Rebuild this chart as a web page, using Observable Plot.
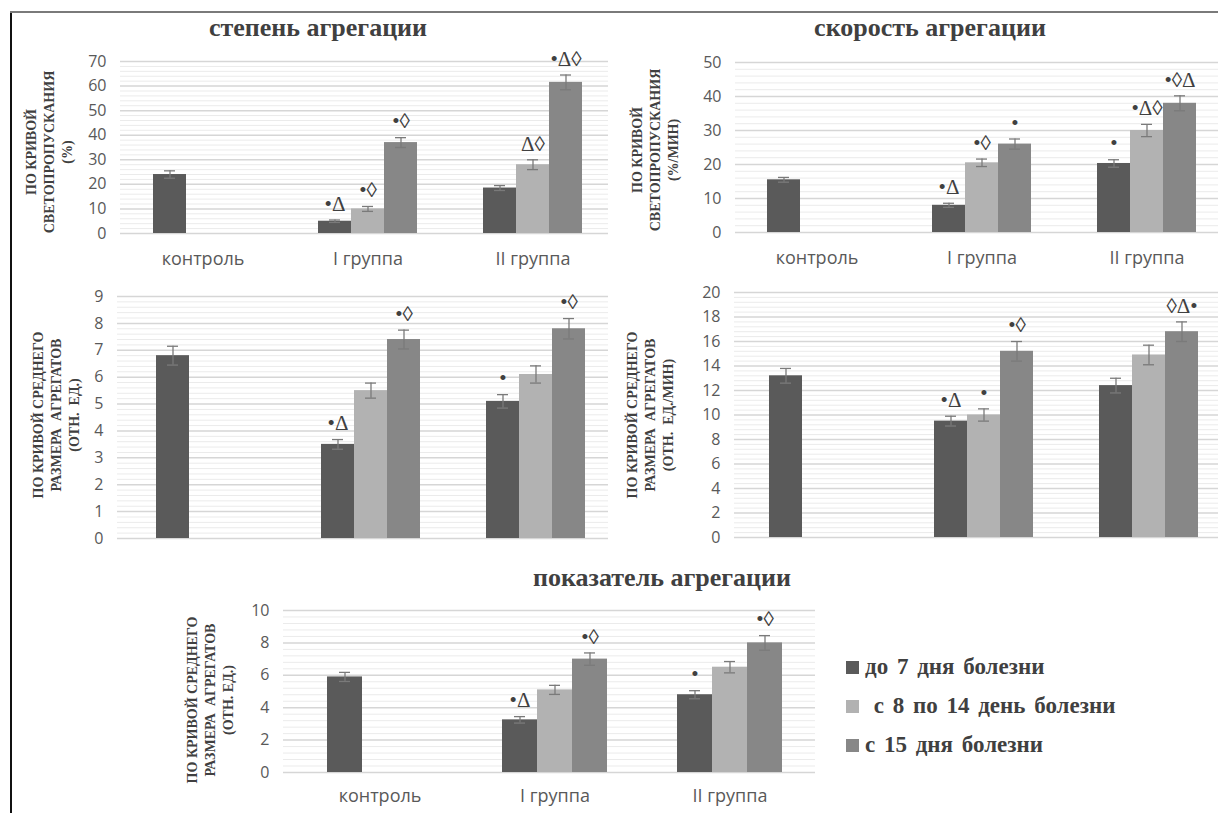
<!DOCTYPE html>
<html><head><meta charset="utf-8">
<script src="https://cdn.jsdelivr.net/npm/d3@7"></script>
<script src="https://cdn.jsdelivr.net/npm/@observablehq/plot@0.6"></script>
<style>
body{margin:0;background:#fff;}
#root{position:relative;width:1218px;height:813px;overflow:hidden;background:#fff;}
.abs{position:absolute;}
.title{font-family:"Liberation Serif",serif;font-weight:bold;font-size:26px;color:#404040;white-space:nowrap;transform:translate(-50%,-50%);}
.ylab{font-family:"Liberation Serif",serif;font-weight:bold;font-size:14px;color:#404040;text-align:center;line-height:18px;white-space:pre;transform:translate(-50%,-50%) rotate(-90deg);}
.leg{font-family:"Liberation Serif",serif;font-weight:bold;font-size:23px;word-spacing:3px;color:#404040;white-space:pre;display:flex;align-items:center;}
.sw{width:13px;height:13px;margin-right:6px;display:inline-block;}
</style></head><body><div id="root"></div>
<script>
// ---- data ----
const groups = ["контроль", "I группа", "II группа"];
const series = ["до 7 дня болезни", " с 8 по 14 день болезни", "с 15 дня болезни"];
const barGroup  = ["контроль", "I группа", "I группа", "I группа", "II группа", "II группа", "II группа"];
const barSeries = [series[0], series[0], series[1], series[2], series[0], series[1], series[2]];

const degreeMean = [24, 5, 10, 37, 18.5, 28, 61.5];
const degreeErr  = [1.5, 0.5, 1, 2, 1, 2, 3];
const degreeSig  = ["", "•Δ", "•◊", "•◊", "", "Δ◊", "•Δ◊"];
const degreeTicks = [0, 10, 20, 30, 40, 50, 60, 70];

const speedMean = [15.5, 8, 20.5, 26, 20.3, 30, 38];
const speedErr  = [0.7, 0.6, 1.1, 1.5, 1.1, 1.8, 2.2];
const speedSig  = ["", "•Δ", "•◊", "•", "•", "•Δ◊", "•◊Δ"];
const speedTicks = [0, 10, 20, 30, 40, 50];

const sizeMean = [6.8, 3.5, 5.5, 7.4, 5.1, 6.1, 7.8];
const sizeErr  = [0.35, 0.18, 0.28, 0.35, 0.25, 0.32, 0.38];
const sizeSig  = ["", "•Δ", "", "•◊", "•", "", "•◊"];
const sizeTicks = [0, 1, 2, 3, 4, 5, 6, 7, 8, 9];

const sizeRateMean = [13.2, 9.5, 10, 15.2, 12.4, 14.9, 16.8];
const sizeRateErr  = [0.6, 0.4, 0.5, 0.8, 0.6, 0.8, 0.8];
const sizeRateSig  = ["", "•Δ", "•", "•◊", "", "", "◊Δ•"];
const sizeRateTicks = [0, 2, 4, 6, 8, 10, 12, 14, 16, 18, 20];

const indexMean = [5.9, 3.25, 5.1, 7, 4.8, 6.5, 8];
const indexErr  = [0.28, 0.2, 0.28, 0.38, 0.25, 0.35, 0.45];
const indexSig  = ["", "•Δ", "", "•◊", "•", "", "•◊"];
const indexTicks = [0, 2, 4, 6, 8, 10];

// ---- styles ----
const seriesColors = ["#5a5a5a", "#b2b2b2", "#878787"];
const errColor = "#7a7a7a";
const root = document.getElementById("root");

function add(el, css) { Object.assign(el.style, css); root.appendChild(el); return el; }
function div(cls, html, css) { const d = document.createElement("div"); d.className = "abs " + cls; d.innerHTML = html; return add(d, css); }

function panel(cfg) {
  const rows = barGroup.map((g, i) => ({
    key: g + "|" + barSeries[i], series: barSeries[i],
    v: cfg.mean[i], e: cfg.err[i], sig: cfg.sig[i]
  }));
  const domain = groups.flatMap(g => [g + "|pre", ...series.map(s => g + "|" + s), g + "|post"]);
  const ticks = cfg.ticks;
  const minor = [];
  for (let i = 0; i < ticks.length - 1; i++)
    for (let k = 1; k < 5; k++) minor.push(ticks[i] + (ticks[i + 1] - ticks[i]) * k / 5);
  const marks = [
    Plot.ruleY(minor, {stroke: "#ebebeb", strokeWidth: 1}),
    Plot.ruleY(ticks, {stroke: "#d6d6d6", strokeWidth: 1.5}),
    Plot.axisY({ticks, tickSize: 0, tickPadding: 14, fontSize: 16, label: null}),
    Plot.barY(rows, {x: "key", y: "v", fill: "series"}),
    Plot.ruleX(rows, {x: "key", y1: d => d.v - d.e, y2: d => d.v + d.e, stroke: errColor, strokeWidth: 1.3}),
    Plot.tickY(rows, {x: "key", y: d => d.v - d.e, stroke: errColor, strokeWidth: 1.3, insetLeft: cfg.cap, insetRight: cfg.cap}),
    Plot.tickY(rows, {x: "key", y: d => d.v + d.e, stroke: errColor, strokeWidth: 1.3, insetLeft: cfg.cap, insetRight: cfg.cap}),
    Plot.text(rows.filter(d => d.sig), {x: "key", y: d => d.v + d.e, text: "sig", dy: -16,
      fontFamily: "Liberation Serif, serif", fontSize: 21, fill: "#404040"})
  ];
  if (cfg.showX) marks.push(Plot.axisX({
    ticks: groups.map(g => g + "|" + series[1]), tickFormat: k => k.split("|")[0],
    tickSize: 0, tickPadding: cfg.xPad, fontSize: 18, label: null
  }));
  const svg = Plot.plot({
    width: cfg.width, height: cfg.height,
    marginLeft: cfg.ml, marginRight: cfg.mr, marginTop: cfg.mt, marginBottom: cfg.mb,
    x: {type: "band", domain, range: cfg.xRange, padding: 0, label: null, ...(cfg.showX ? {} : {axis: null})},
    y: {domain: [0, ticks[ticks.length - 1]], label: null},
    color: {domain: series, range: seriesColors},
    style: {background: "transparent", overflow: "visible", color: "#595959", fontFamily: "Open Sans, sans-serif"},
    marks
  });
  add(svg, {position: "absolute", left: cfg.left + "px", top: cfg.top + "px"});
}

// frame lines
add(document.createElement("div"), {position: "absolute", left: "10px", top: "12px", width: "1.5px", height: "801px", background: "#111"});
add(document.createElement("div"), {position: "absolute", left: "10px", top: "11px", width: "1208px", height: "2px", background: "#7a7a7a"});

panel({left: 0, top: 0, width: 608, height: 280, ml: 120, mr: 0, mt: 61, mb: 47, xRange: [120, 615], cap: 11,
  mean: degreeMean, err: degreeErr, sig: degreeSig, ticks: degreeTicks, showX: true, xPad: 19});
panel({left: 608, top: 0, width: 610, height: 280, ml: 127, mr: 0, mt: 62, mb: 48, xRange: [124, 622], cap: 11,
  mean: speedMean, err: speedErr, sig: speedSig, ticks: speedTicks, showX: true, xPad: 19});
panel({left: 0, top: 280, width: 608, height: 270, ml: 117, mr: 0, mt: 16, mb: 12, xRange: [118, 622], cap: 11,
  mean: sizeMean, err: sizeErr, sig: sizeSig, ticks: sizeTicks, showX: false});
panel({left: 608, top: 280, width: 610, height: 270, ml: 126, mr: 0, mt: 12, mb: 13, xRange: [128, 623], cap: 11,
  mean: sizeRateMean, err: sizeRateErr, sig: sizeRateSig, ticks: sizeRateTicks, showX: false});
panel({left: 170, top: 590, width: 650, height: 223, ml: 113, mr: 5, mt: 20, mb: 41, xRange: [117, 651], cap: 12,
  mean: indexMean, err: indexErr, sig: indexSig, ticks: indexTicks, showX: true, xPad: 17});

// titles
div("title", "степень агрегации", {left: "318px", top: "28px"});
div("title", "скорость агрегации", {left: "930px", top: "28px"});
div("title", "показатель агрегации", {left: "662px", top: "578px"});

// y labels
div("ylab", "ПО КРИВОЙ\nСВЕТОПРОПУСКАНИЯ\n(%)", {left: "50px", top: "152px"});
div("ylab", "ПО КРИВОЙ\nСВЕТОПРОПУСКАНИЯ\n(%/МИН)", {left: "656px", top: "150px"});
div("ylab", "ПО КРИВОЙ СРЕДНЕГО\nРАЗМЕРА  АГРЕГАТОВ\n(ОТН.  ЕД.)", {left: "57px", top: "415px"});
div("ylab", "ПО КРИВОЙ СРЕДНЕГО\nРАЗМЕРА  АГРЕГАТОВ\n(ОТН.  ЕД./МИН)", {left: "651px", top: "415px"});
div("ylab", "ПО КРИВОЙ СРЕДНЕГО\nРАЗМЕРА  АГРЕГАТОВ\n(ОТН. ЕД.)", {left: "211px", top: "700px"});

// legend
series.forEach((s, i) => {
  div("leg", `<span class="sw" style="background:${seriesColors[i]}"></span>${s}`,
    {left: "846px", top: (654 + i * 39) + "px"});
});
</script></body></html>
